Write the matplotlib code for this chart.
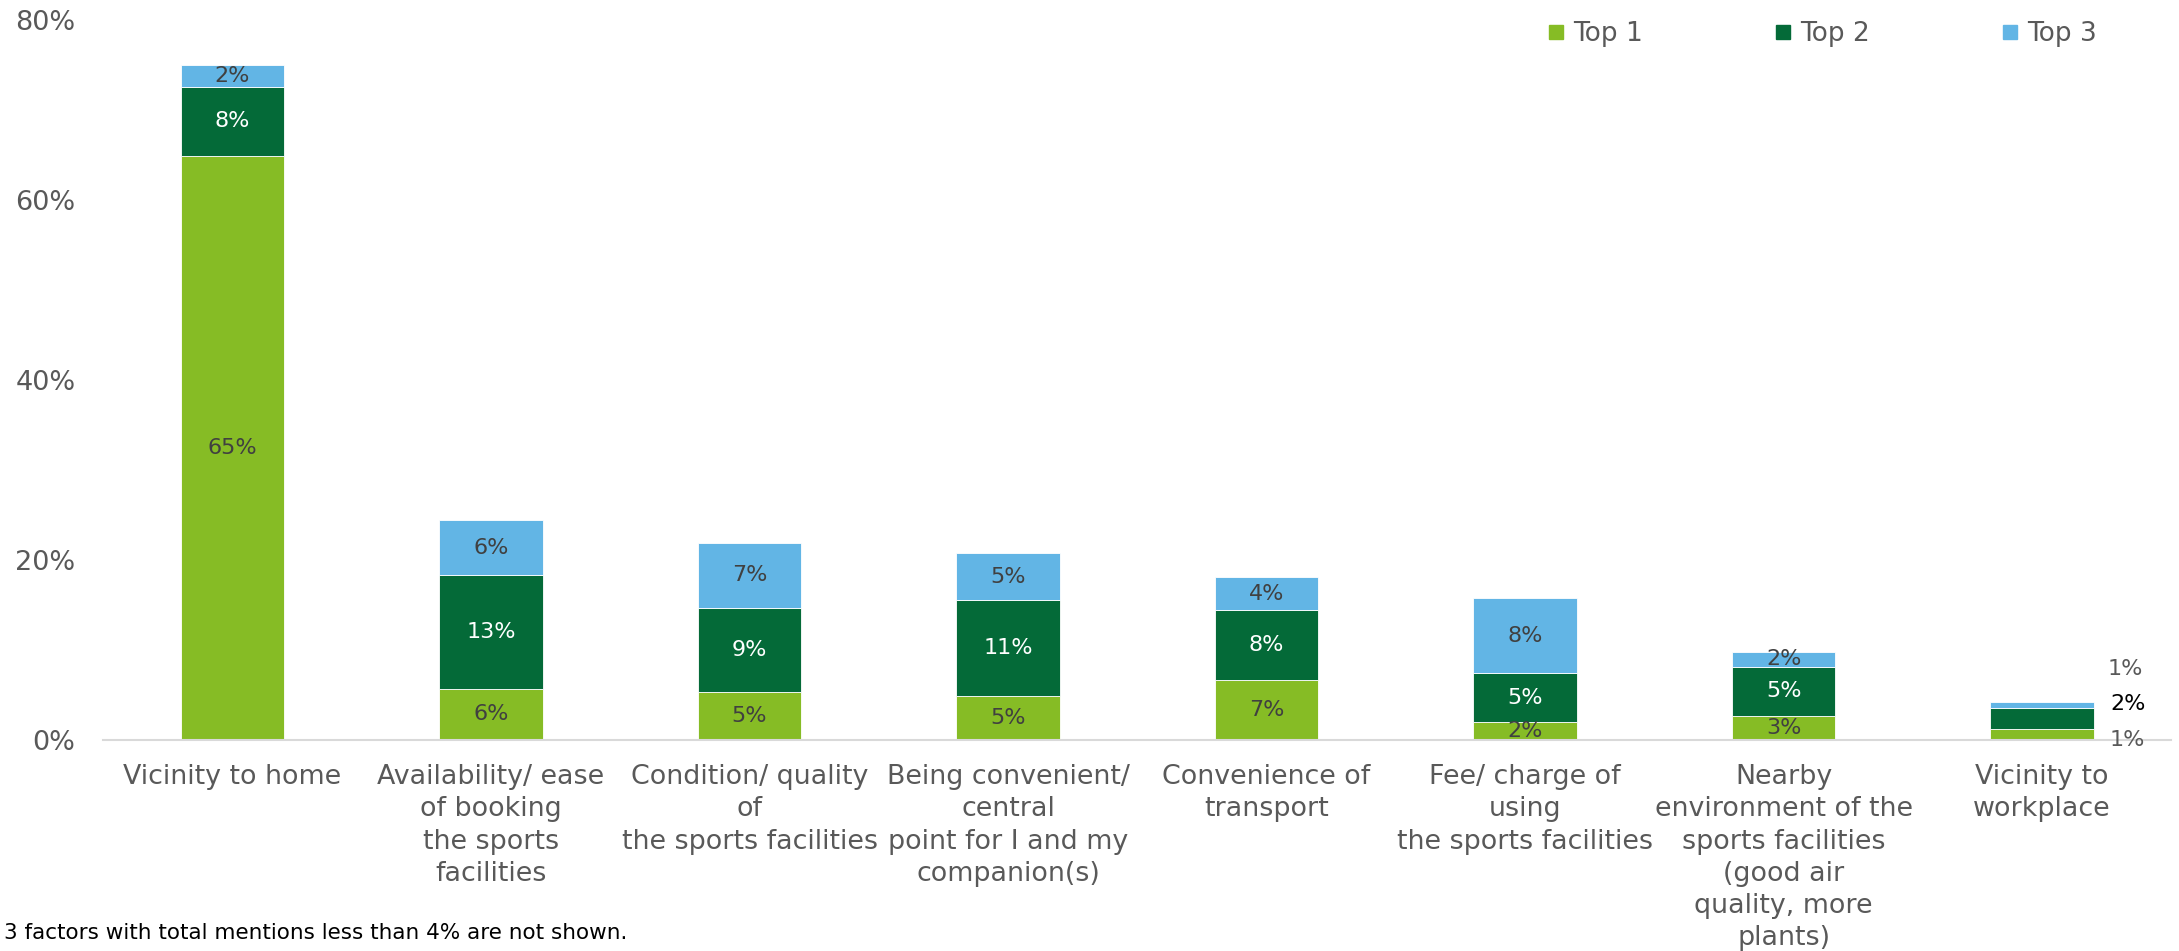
import matplotlib
matplotlib.use("Agg")
import matplotlib.pyplot as plt
from matplotlib.lines import Line2D

# Factors and share of mentions (%) as first, second and third choice
categories = [
    "Vicinity to home",
    "Availability/ ease\nof booking\nthe sports\nfacilities",
    "Condition/ quality\nof\nthe sports facilities",
    "Being convenient/\ncentral\npoint for I and my\ncompanion(s)",
    "Convenience of\ntransport",
    "Fee/ charge of\nusing\nthe sports facilities",
    "Nearby\nenvironment of the\nsports facilities\n(good air\nquality, more\nplants)",
    "Vicinity to\nworkplace",
]
top1 = [64.9, 5.7, 5.3, 4.9, 6.7, 2.0, 2.7, 1.2]
top2 = [7.7, 12.6, 9.4, 10.6, 7.7, 5.4, 5.4, 2.4]
top3 = [2.4, 6.1, 7.2, 5.3, 3.7, 8.4, 1.7, 0.6]
series_names = ["Top 1", "Top 2", "Top 3"]
y_ticks = [0, 20, 40, 60, 80]
footnote = "3 factors with total mentions less than 4% are not shown."

colors = ["#86BC25", "#046A38", "#62B5E5"]
label_colors = ["#404040", "#FFFFFF", "#404040"]
text_gray = "#595959"

plt.rcParams["font.family"] = ["DejaVu Sans"]

fig = plt.figure(figsize=(21.79, 9.51), dpi=100)
ax = fig.add_axes([0.0474, 0.2219, 0.9491, 0.7571])

x = list(range(len(categories)))
series = [top1, top2, top3]
bottoms = [0.0] * len(categories)
bar_groups = []
for vals, col, name in zip(series, colors, series_names):
    bars = ax.bar(x, vals, bottom=bottoms, width=0.40, color=col,
                  edgecolor="white", linewidth=0.6, label=name, zorder=2)
    bar_groups.append(bars)
    bottoms = [b + v for b, v in zip(bottoms, vals)]

# In-bar value labels (all bars except the last, whose labels sit beside it)
last = len(categories) - 1
for vals, bars, lc in zip(series, bar_groups, label_colors):
    for i, (v, rect) in enumerate(zip(vals, bars)):
        if i == last:
            continue
        cx = rect.get_x() + rect.get_width() / 2
        cy = rect.get_y() + rect.get_height() / 2
        ax.text(cx, cy, f"{round(v):.0f}%", ha="center", va="center",
                fontsize=16, color=lc, zorder=3)

# Labels for the short last bar, placed to its right
side_offsets = [(61, -4), (62, 10), (60, 26)]
side_colors = [text_gray, "#000000", text_gray]
for vals, bars, off, sc in zip(series, bar_groups, side_offsets, side_colors):
    rect = bars[last]
    cx = rect.get_x() + rect.get_width() / 2
    cy = rect.get_y() + rect.get_height() / 2
    ax.annotate(f"{round(vals[last]):.0f}%", xy=(cx, cy), xytext=off,
                textcoords="offset points", ha="center", va="center",
                fontsize=16, color=sc, zorder=3, annotation_clip=False)

ax.set_xlim(-0.5, len(categories) - 0.5)
ax.set_ylim(0, 80)
ax.set_yticks(y_ticks)
ax.set_yticklabels([f"{t}%" for t in y_ticks])
ax.set_xticks(x)
ax.set_xticklabels(categories, linespacing=1.31)

for side in ["top", "right", "left"]:
    ax.spines[side].set_visible(False)
ax.spines["bottom"].set_color("#D9D9D9")
ax.spines["bottom"].set_linewidth(1.5)
ax.tick_params(axis="y", length=0, pad=20, labelsize=19.5, labelcolor=text_gray)
ax.tick_params(axis="x", length=0, pad=17.5, labelsize=19.4, labelcolor=text_gray)

handles = [Line2D([0], [0], marker="s", linestyle="none", markersize=10,
                  markerfacecolor=c, markeredgecolor=c) for c in colors]
fig.legend(handles, series_names, loc="center right",
           bbox_to_anchor=(0.973, 0.964), ncol=3, frameon=False,
           fontsize=19, labelcolor=text_gray, handlelength=0.6,
           handletextpad=0.35, columnspacing=5.0)

fig.text(0.002, 0.019, footnote, ha="left", va="center", fontsize=15.5,
         color="#000000")

fig.savefig("out.png", dpi=100)
